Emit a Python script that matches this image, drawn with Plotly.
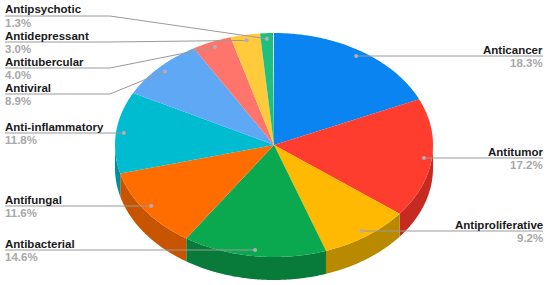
"""Pseudo-3D pie of drug activity shares, drawn as filled polygons on pixel-like axes."""
import numpy as np
import plotly.graph_objects as go

categories = ["Anticancer", "Antitumor", "Antiproliferative", "Antibacterial", "Antifungal",
              "Anti-inflammatory", "Antiviral", "Antitubercular", "Antidepressant", "Antipsychotic"]
shares = [18.3, 17.2, 9.2, 14.6, 11.6, 11.8, 8.9, 4.0, 3.0, 1.3]
colors = ["#0a84f0", "#ff3d2e", "#ffb900", "#0aa84f", "#ff6d00",
          "#00bcd0", "#5fa8f5", "#ff756b", "#ffcb3d", "#1fbf7f"]
side_colors = ["#0a63b4", "#c62a20", "#b98a00", "#087a39", "#c75400",
               "#008d9c", "#4780b8", "#bf5850", "#bf982e", "#178f5f"]

# label placement: y of the horizontal leader, elbow x (None = straight to the dot), side
leader_y = [56, 158, 231, 250, 206, 133, 94, 68, 42, 16]
elbow_x = [None, None, None, None, None, None, 110, 110, 110, 110]
on_right = [True, True, True, False, False, False, False, False, False, False]

CX, CY, RX, RY, DEPTH = 274, 145, 159, 112, 24
LEFT_X, RIGHT_X = 5, 543


def arc(a0, a1):
    t = np.radians(np.linspace(a0, a1, max(int(abs(a1 - a0)) * 2, 2)))
    return CX + RX * np.sin(t), CY - RY * np.cos(t)


fig = go.Figure()
edges = np.cumsum([0] + shares) * 3.6

# side wall, only the front half of the rim is visible
for name, a0, a1, col in zip(categories, edges[:-1], edges[1:], side_colors):
    lo, hi = max(a0, 90), min(a1, 270)
    if lo >= hi:
        continue
    x, y = arc(lo, hi)
    fig.add_trace(go.Scatter(
        x=np.r_[x, x[::-1]], y=np.r_[y, y[::-1] + DEPTH - 1], fill="toself", fillcolor=col,
        mode="none", hoverinfo="skip", showlegend=False))

# top face
for name, share, a0, a1, col in zip(categories, shares, edges[:-1], edges[1:], colors):
    x, y = arc(a0, a1)
    fig.add_trace(go.Scatter(
        x=np.r_[CX, x, CX], y=np.r_[CY, y, CY], fill="toself", fillcolor=col,
        mode="none", name=name, text=f"{name} {share}%", hoverinfo="text", showlegend=False))

# leaders and labels
mids = (edges[:-1] + edges[1:]) / 2
for i, name in enumerate(categories):
    t = np.radians(mids[i])
    dot_x = CX + 0.95 * RX * np.sin(t)
    dot_y = CY - 0.95 * RY * np.cos(t)
    y0 = leader_y[i]
    x0 = RIGHT_X if on_right[i] else LEFT_X
    xs = [x0, dot_x] if elbow_x[i] is None else [x0, elbow_x[i], dot_x]
    ys = [y0, y0] if elbow_x[i] is None else [y0, y0, dot_y]
    fig.add_trace(go.Scatter(x=xs, y=ys, mode="lines", line=dict(color="#9a9a9a", width=1),
                             hoverinfo="skip", showlegend=False))
    fig.add_trace(go.Scatter(x=[dot_x], y=[ys[-1]], mode="markers",
                             marker=dict(color="#b9a9b9", size=4), hoverinfo="skip", showlegend=False))
    anchor = "right" if on_right[i] else "left"
    fig.add_annotation(x=x0, y=y0 - 0.5, text=f"<b>{name}</b>", showarrow=False, xanchor=anchor,
                       yanchor="bottom", borderpad=0, borderwidth=0,
                       font=dict(family="Liberation Sans", size=11.5, color="#1a1a1a"))
    fig.add_annotation(x=x0, y=y0 + 0.5, text=f"<b>{shares[i]:.1f}%</b>", showarrow=False,
                       xanchor=anchor, yanchor="top", borderpad=0, borderwidth=0,
                       font=dict(family="Liberation Sans", size=11.5, color="#a8a8a8"))

fig.update_xaxes(range=[0, 550], visible=False, fixedrange=True)
fig.update_yaxes(range=[285, 0], visible=False, fixedrange=True)
fig.update_layout(width=550, height=285, autosize=False, margin=dict(l=0, r=0, t=0, b=0),
                  paper_bgcolor="white", plot_bgcolor="white")
fig.write_html("out.html", config={"displayModeBar": False},
               post_script="document.body.style.margin='0';")
